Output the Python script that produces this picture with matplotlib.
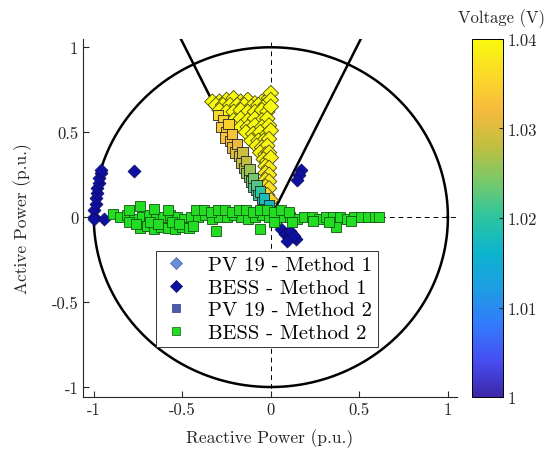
import numpy as np
import matplotlib
matplotlib.use("Agg")
import matplotlib.pyplot as plt
from matplotlib.colors import LinearSegmentedColormap
from matplotlib.lines import Line2D

plt.rcParams['font.family'] = 'serif'
plt.rcParams['font.serif'] = ['cmr10', 'DejaVu Serif']
plt.rcParams['mathtext.fontset'] = 'cm'
plt.rcParams['axes.unicode_minus'] = False

# approximate MATLAB parula colormap
parula = LinearSegmentedColormap.from_list("parula", [
    (0.0, (0.2422, 0.1504, 0.6603)),
    (0.1, (0.2760, 0.3020, 0.9450)),
    (0.2, (0.1980, 0.4800, 0.9890)),
    (0.3, (0.1190, 0.6130, 0.8900)),
    (0.4, (0.0450, 0.7050, 0.8100)),
    (0.5, (0.1700, 0.7700, 0.6300)),
    (0.6, (0.4600, 0.7900, 0.4200)),
    (0.7, (0.7500, 0.7500, 0.2500)),
    (0.8, (0.9700, 0.7300, 0.2400)),
    (0.9, (0.9800, 0.8500, 0.1600)),
    (1.0, (0.9763, 0.9831, 0.0538)),
])

# PV 19 - Method 1 (diamonds, coloured by voltage)
pv1_q = [-0.33, -0.29, -0.25, -0.21, -0.17, -0.13, -0.09, -0.05, -0.01, 0.00,
         -0.31, -0.27, -0.23, -0.19, -0.15, -0.11, -0.07, -0.03, 0.00,
         -0.29, -0.25, -0.21, -0.17, -0.13, -0.09, -0.05, -0.02, 0.00,
         -0.21, -0.17, -0.13, -0.09, -0.05, -0.02,
         -0.17, -0.13, -0.09, -0.05, -0.01,
         -0.14, -0.10, -0.06, -0.02, 0.00,
         -0.11, -0.07, -0.04, -0.01,
         -0.08, -0.05, -0.02,
         -0.06, -0.03, -0.01,
         -0.04, -0.02, 0.00,
         -0.03, -0.01, -0.03, -0.01, -0.03, -0.01, -0.03, -0.01, -0.02, 0.00]
pv1_p = [0.68, 0.68, 0.69, 0.70, 0.68, 0.69, 0.67, 0.68, 0.70, 0.73,
         0.66, 0.66, 0.66, 0.66, 0.66, 0.65, 0.66, 0.66, 0.69,
         0.63, 0.62, 0.62, 0.63, 0.62, 0.62, 0.63, 0.62, 0.65,
         0.57, 0.58, 0.57, 0.58, 0.57, 0.58,
         0.53, 0.53, 0.54, 0.53, 0.54,
         0.50, 0.49, 0.50, 0.49, 0.51,
         0.45, 0.45, 0.45, 0.46,
         0.42, 0.41, 0.42,
         0.38, 0.37, 0.38,
         0.34, 0.33, 0.35,
         0.30, 0.29, 0.26, 0.25, 0.22, 0.21, 0.18, 0.17, 0.13, 0.10]
pv1_v = [1.040, 1.040, 1.040, 1.040, 1.040, 1.040, 1.040, 1.040, 1.040, 1.040,
         1.040, 1.040, 1.040, 1.040, 1.040, 1.040, 1.040, 1.040, 1.040,
         1.040, 1.040, 1.040, 1.040, 1.040, 1.040, 1.040, 1.040, 1.040,
         1.040, 1.040, 1.040, 1.040, 1.040, 1.040,
         1.040, 1.040, 1.040, 1.040, 1.040,
         1.040, 1.040, 1.040, 1.040, 1.039,
         1.040, 1.040, 1.039, 1.039,
         1.039, 1.039, 1.039,
         1.039, 1.039, 1.039,
         1.039, 1.039, 1.039,
         1.039, 1.038, 1.038, 1.038, 1.038, 1.038, 1.037, 1.037, 1.036, 1.035]

# BESS - Method 1 (dark blue diamonds)
bess1_q = [-1.00, -1.00, -0.99, -0.99, -0.98, -0.98, -0.97, -0.97, -0.96, -0.96,
           -1.00, -0.94, -0.77, 0.17, 0.16, 0.15,
           0.06, 0.08, 0.10, 0.12, 0.14, 0.09, 0.11, 0.13]
bess1_p = [0.00, 0.04, 0.08, 0.11, 0.14, 0.17, 0.20, 0.23, 0.26, 0.28,
           -0.01, -0.01, 0.27, 0.28, 0.25, 0.22,
           -0.07, -0.10, -0.12, -0.10, -0.13, -0.14, -0.08, -0.11]

# PV 19 - Method 2 (squares, coloured by voltage)
pv2_q = [-0.30, -0.27, -0.28, -0.25, -0.26, -0.23, -0.22, -0.20, -0.18, -0.17,
         -0.15, -0.14, -0.12, -0.11, -0.10, -0.08, -0.07, -0.05, -0.04, -0.03,
         -0.02, -0.24, -0.22, -0.19, -0.16, -0.14, -0.12, -0.10, -0.08, -0.06,
         -0.04, -0.01, 0.00]
pv2_p = [0.60, 0.57, 0.53, 0.50, 0.47, 0.45, 0.41, 0.38, 0.36, 0.32,
         0.29, 0.26, 0.24, 0.21, 0.18, 0.16, 0.13, 0.11, 0.08, 0.06,
         0.04, 0.55, 0.49, 0.43, 0.38, 0.33, 0.28, 0.23, 0.19, 0.15,
         0.11, 0.07, 0.03]
pv2_v = [1.036, 1.035, 1.034, 1.033, 1.033, 1.032, 1.031, 1.030, 1.029, 1.028,
         1.027, 1.026, 1.025, 1.023, 1.022, 1.021, 1.020, 1.019, 1.018, 1.017,
         1.016, 1.035, 1.033, 1.031, 1.029, 1.028, 1.026, 1.024, 1.022, 1.020,
         1.018, 1.017, 1.015]

# BESS - Method 2 (green squares)
bess2_q = [-0.89, -0.85, -0.81, -0.77, -0.73, -0.69, -0.65, -0.61, -0.57, -0.53,
           -0.49, -0.45, -0.41, -0.37, -0.33, -0.29, -0.25, -0.21, -0.17, -0.13,
           -0.09, -0.05, -0.01, 0.03, 0.07, 0.11, 0.15, 0.19, 0.23, 0.27,
           0.31, 0.35, 0.39, 0.43, 0.47, 0.51, 0.55, 0.59, 0.61,
           -0.42, -0.38, -0.34, -0.30, -0.26, -0.22, -0.18, -0.14, -0.10, -0.06,
           -0.02, 0.02, 0.06, 0.10,
           -0.80, -0.74, -0.66, -0.58,
           -0.74, -0.70, -0.66, -0.62, -0.58, -0.54, -0.50, -0.46, -0.44,
           -0.80, -0.76, -0.68, -0.64, -0.56, -0.52,
           -0.31, -0.06, 0.37, 0.02, 0.12, 0.24, 0.33, 0.45]
bess2_p = [0.02, 0.00, 0.01, -0.01, 0.00, 0.01, -0.01, 0.00, 0.01, 0.00,
           -0.01, 0.00, 0.00, 0.01, -0.01, 0.00, 0.00, 0.01, 0.00, -0.01,
           0.00, 0.01, 0.00, -0.01, 0.00, 0.00, -0.01, 0.00, 0.00, -0.01,
           0.00, 0.00, 0.00, -0.01, 0.00, 0.00, 0.00, 0.00, 0.00,
           0.04, 0.04, 0.03, 0.04, 0.04, 0.03, 0.04, 0.04, 0.03, 0.04,
           0.04, 0.03, 0.04, 0.03,
           0.04, 0.065, 0.05, 0.04,
           -0.065, -0.05, -0.07, -0.06, -0.065, -0.07, -0.06, -0.065, -0.05,
           -0.03, -0.04, -0.03, -0.04, -0.03, -0.04,
           -0.08, -0.07, -0.06, -0.03, -0.03, -0.02, -0.03, -0.02]

vmin, vmax = 1.0, 1.04

fig = plt.figure(figsize=(5.47, 4.52), dpi=100)
ax = fig.add_axes([0.152, 0.119, 0.683, 0.793])

# reference lines
ax.axhline(0, color='k', lw=0.7, ls=(0, (5, 4)), zorder=1)
ax.axvline(0, color='k', lw=0.7, ls=(0, (5, 4)), zorder=1)
th = np.linspace(0, 2 * np.pi, 400)
ax.plot(np.cos(th), np.sin(th), color='k', lw=1.8, zorder=2)
pf = 0.9
tq = np.tan(np.arccos(pf))
ax.plot([0, -tq * 1.2], [0, 1.2], color='k', lw=1.8, zorder=2)
ax.plot([0, tq * 1.2], [0, 1.2], color='k', lw=1.8, zorder=2)

sc = ax.scatter(pv1_q, pv1_p, c=pv1_v, cmap=parula, vmin=vmin, vmax=vmax,
                marker='D', s=62, edgecolors='#4a4a10', linewidths=0.6, zorder=3)
ax.scatter(pv2_q, pv2_p, c=pv2_v, cmap=parula, vmin=vmin, vmax=vmax,
           marker='s', s=56, edgecolors='#222222', linewidths=0.6, zorder=4)
ax.scatter(bess1_q, bess1_p, color='#1010a0', marker='D', s=44,
           edgecolors='#0a0a60', linewidths=0.5, zorder=4)
ax.scatter(bess2_q, bess2_p, color='#22dd22', marker='s', s=58,
           edgecolors='#115511', linewidths=0.6, zorder=5)

ax.set_xlim(-1.06, 1.05)
ax.set_ylim(-1.06, 1.05)
ax.set_xticks([-1, -0.5, 0, 0.5, 1])
ax.set_xticklabels(['-1', '-0.5', '0', '0.5', '1'])
ax.set_yticks([-1, -0.5, 0, 0.5, 1])
ax.set_yticklabels(['-1', '-0.5', '0', '0.5', '1'])
ax.spines['top'].set_visible(False)
ax.spines['right'].set_visible(False)
for s in ['left', 'bottom']:
    ax.spines[s].set_color('#262626')
    ax.spines[s].set_linewidth(0.8)
ax.tick_params(direction='in', length=4, labelsize=12, colors='#262626')
ax.set_xlabel('Reactive Power (p.u.)', fontsize=12.5, color='#262626', labelpad=8)
ax.set_ylabel('Active Power (p.u.)', fontsize=12.5, color='#262626', labelpad=14)

handles = [
    Line2D([], [], ls='none', marker='D', ms=6, mfc='#6a8ed6', mec='#4060a0', mew=0.5),
    Line2D([], [], ls='none', marker='D', ms=6, mfc='#1010a0', mec='#0a0a60', mew=0.5),
    Line2D([], [], ls='none', marker='s', ms=6, mfc='#4a5cae', mec='#303a80', mew=0.5),
    Line2D([], [], ls='none', marker='s', ms=6, mfc='#22dd22', mec='#115511', mew=0.5),
]
labels = ['PV 19 - Method 1', 'BESS - Method 1', 'PV 19 - Method 2', 'BESS - Method 2']
leg = ax.legend(handles, labels, loc='upper left', bbox_to_anchor=(0.195, 0.408),
                borderaxespad=0, fontsize=14.8, fancybox=False, framealpha=1,
                edgecolor='#333333', handletextpad=0.9, labelspacing=0.2,
                borderpad=0.25, handlelength=1.4)
leg.get_frame().set_linewidth(0.7)
leg.set_zorder(10)

cax = fig.add_axes([0.863, 0.119, 0.056, 0.793])
cb = fig.colorbar(sc, cax=cax)
cb.set_ticks([1.0, 1.01, 1.02, 1.03, 1.04])
cb.set_ticklabels(['1', '1.01', '1.02', '1.03', '1.04'])
cb.ax.tick_params(labelsize=12, colors='#262626', direction='in', length=3)
cb.outline.set_linewidth(0.7)
fig.text(0.996, 0.958, 'Voltage (V)', ha='right', va='center', fontsize=12,
         color='#262626')

fig.savefig('out.png', dpi=100)
